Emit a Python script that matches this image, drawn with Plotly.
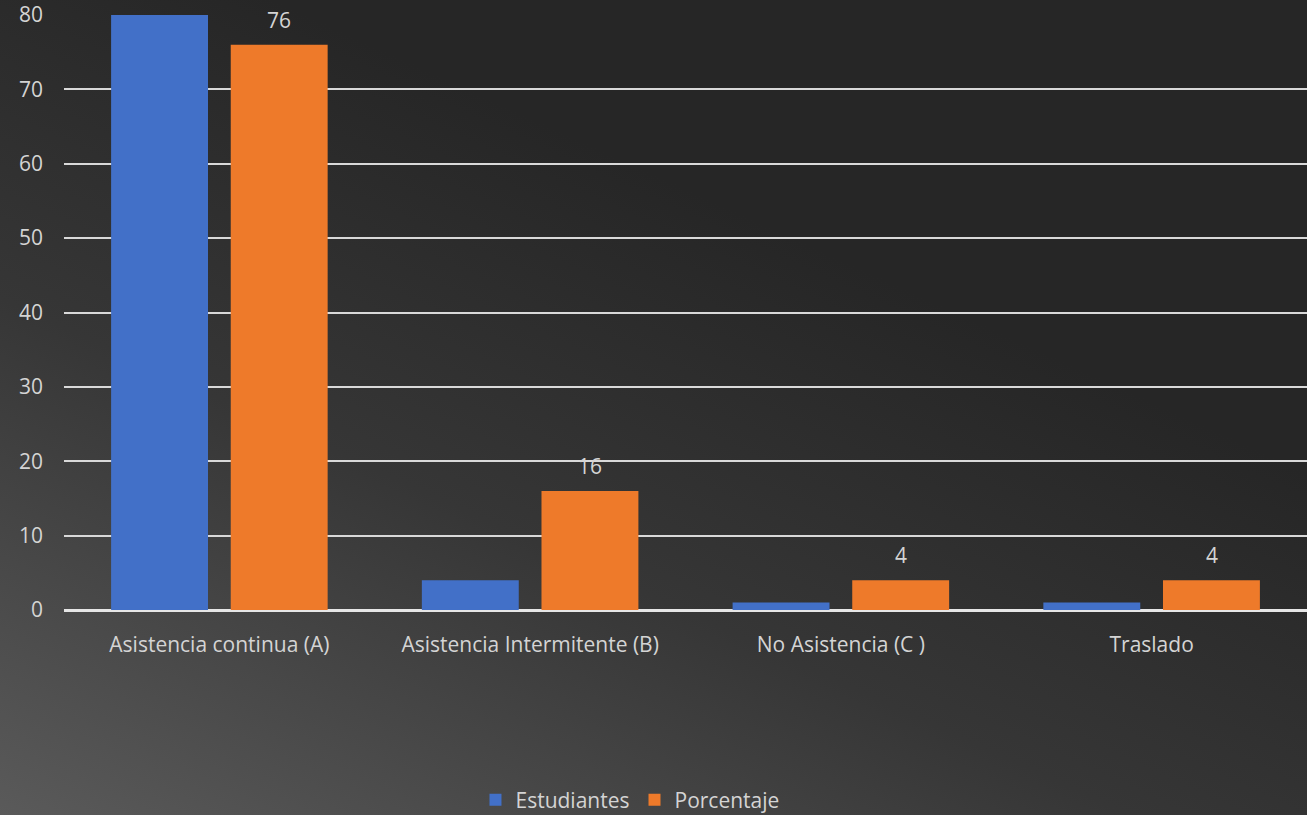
import base64
import plotly.graph_objects as go

categories = ["Asistencia continua (A)", "Asistencia Intermitente (B)", "No Asistencia (C )", "Traslado"]
estudiantes = [80, 4, 1, 1]
porcentaje = [76, 16, 4, 4]
y_ticks = [0, 10, 20, 30, 40, 50, 60, 70, 80]

W, H = 1307, 815
ML, MR, MT, MB = 64, 0, 15, 205
PW, PH = W - ML - MR, H - MT - MB

svg = f'''<svg xmlns="http://www.w3.org/2000/svg" width="{W}" height="{H}" viewBox="0 0 {W} {H}" preserveAspectRatio="none">
<defs><linearGradient id="g" x1="0" y1="1" x2="0.55" y2="0.25">
<stop offset="0" stop-color="#5a5a5a"/><stop offset="0.55" stop-color="#363636"/><stop offset="1" stop-color="#262626"/>
</linearGradient></defs><rect width="{W}" height="{H}" fill="url(#g)"/></svg>'''
src = "data:image/svg+xml;base64," + base64.b64encode(svg.encode()).decode()

FONT = "Open Sans"
TXT = "#d4d4d4"
FS = 21

fig = go.Figure()
fig.add_trace(go.Bar(name="Estudiantes", x=categories, y=estudiantes,
                     marker=dict(color="#4270c8", line=dict(width=0))))
fig.add_trace(go.Bar(name="Porcentaje", x=categories, y=porcentaje,
                     marker=dict(color="#ee7a2a", line=dict(width=0))))

for i, (c, v) in enumerate(zip(categories, porcentaje)):
    fig.add_annotation(x=c, y=v, xref="x", yref="y", text=str(v), showarrow=False,
                       xshift=60, yshift=25, font=dict(family=FONT, size=FS, color=TXT))

fig.update_layout(
    width=W, height=H,
    margin=dict(l=ML, r=MR, t=MT, b=MB, autoexpand=False),
    paper_bgcolor="#262626", plot_bgcolor="rgba(0,0,0,0)",
    barmode="group", bargap=0.23, bargroupgap=0.19,
    font=dict(family=FONT, size=FS, color=TXT),
    showlegend=True,
    legend=dict(orientation="h", xref="container", yref="container",
                x=0.482, xanchor="center", y=1 - 800 / H, yanchor="middle",
                font=dict(family=FONT, size=FS, color=TXT), itemwidth=30,
                bgcolor="rgba(0,0,0,0)"),
    images=[dict(source=src, xref="paper", yref="paper", x=-ML / PW, y=1 + MT / PH,
                 sizex=W / PW, sizey=H / PH, sizing="stretch", layer="below",
                 xanchor="left", yanchor="top")],
)
fig.update_xaxes(showgrid=False, showline=False, ticks="", ticklabelstandoff=20,
                 tickfont=dict(family=FONT, size=FS, color=TXT))
fig.update_yaxes(range=[0, 80], tickvals=y_ticks, showgrid=True, gridcolor="#d9d9d9", gridwidth=2,
                 zeroline=True, zerolinecolor="#e6e6e6", zerolinewidth=3, showline=False,
                 ticks="", ticklabelstandoff=20, tickfont=dict(family=FONT, size=FS, color=TXT))

fig.write_html("out.html", config={"displayModeBar": False, "responsive": False},
               post_script="document.body.style.margin='0';document.body.style.background='#262626';")
